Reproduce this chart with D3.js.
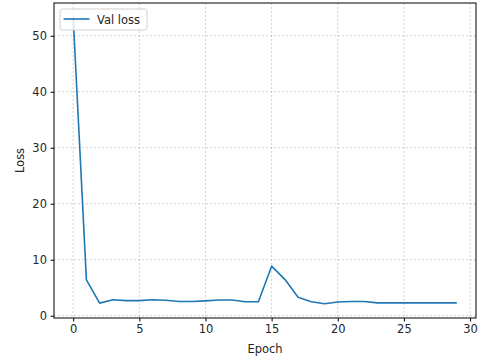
<!DOCTYPE html>
<html>
<head>
    <meta charset="utf-8">
    <title>Val loss</title>
    <script src="https://d3js.org/d3.v7.min.js"></script>
    <style>
        body { margin: 0; background: #fff; }
        text { font-family: "DejaVu Sans", sans-serif; fill: #262626; }
        .grid line { stroke: #b0b0b0; stroke-width: 0.6px; stroke-dasharray: 2, 2; }
        .axis path, .axis line { stroke: #000; stroke-width: 1px; }
        .axis text { font-size: 11.5px; fill: #262626; }
        .line { fill: none; stroke: #1f77b4; stroke-width: 1.6px; stroke-linejoin: round; }
    </style>
</head>
<body>
<svg width="489" height="360"></svg>
<script>
    // validation loss per epoch
    var epochs = d3.range(0, 30);
    var valLoss = [53.3, 6.4, 2.25, 2.85, 2.7, 2.7, 2.85, 2.75, 2.55, 2.55,
                   2.65, 2.8, 2.8, 2.5, 2.5, 8.85, 6.5, 3.3, 2.5, 2.15,
                   2.45, 2.55, 2.55, 2.3, 2.3, 2.3, 2.3, 2.3, 2.3, 2.3];
    var xTicks = [0, 5, 10, 15, 20, 25, 30];
    var yTicks = [0, 10, 20, 30, 40, 50];
    var seriesName = "Val loss";

    var svg = d3.select("svg"),
        plotL = 54, plotR = 476, plotT = 3, plotB = 318;

    // matplotlib style 5% margins
    var xMin = d3.min(epochs), xMax = d3.max(epochs), xPad = (xMax - xMin) * 0.05;
    var yMin = d3.min(valLoss), yMax = d3.max(valLoss), yPad = (yMax - yMin) * 0.05;

    var x = d3.scaleLinear().domain([xMin - xPad, xMax + xPad]).range([plotL, plotR]);
    var y = d3.scaleLinear().domain([yMin - yPad, yMax + yPad]).range([plotB, plotT]);

    // grid
    var grid = svg.append("g").attr("class", "grid");
    grid.selectAll(".gx").data(xTicks.filter(function (t) { return x(t) <= plotR; }))
        .enter().append("line")
        .attr("x1", function (d) { return x(d); }).attr("x2", function (d) { return x(d); })
        .attr("y1", plotT).attr("y2", plotB);
    grid.selectAll(".gy").data(yTicks)
        .enter().append("line")
        .attr("y1", function (d) { return y(d); }).attr("y2", function (d) { return y(d); })
        .attr("x1", plotL).attr("x2", plotR);

    // line
    var line = d3.line()
        .x(function (d, i) { return x(epochs[i]); })
        .y(function (d) { return y(d); });
    svg.append("path").datum(valLoss).attr("class", "line").attr("d", line);

    // frame
    svg.append("rect").attr("x", plotL).attr("y", plotT)
        .attr("width", plotR - plotL).attr("height", plotB - plotT)
        .attr("fill", "none").attr("stroke", "#000").attr("stroke-width", 1);

    // axes
    svg.append("g").attr("class", "axis")
        .attr("transform", "translate(0," + plotB + ")")
        .call(d3.axisBottom(x).tickValues(xTicks).tickSize(3.5).tickPadding(3.5).tickSizeOuter(0))
        .call(function (g) { g.select(".domain").remove(); });
    svg.append("g").attr("class", "axis")
        .attr("transform", "translate(" + plotL + ",0)")
        .call(d3.axisLeft(y).tickValues(yTicks).tickSize(3.5).tickPadding(3.5).tickSizeOuter(0))
        .call(function (g) { g.select(".domain").remove(); });

    // labels
    svg.append("text").attr("x", (plotL + plotR) / 2).attr("y", 353)
        .attr("text-anchor", "middle").style("font-size", "11.5px").text("Epoch");
    svg.append("text").attr("transform", "translate(24," + ((plotT + plotB) / 2) + ") rotate(-90)")
        .attr("text-anchor", "middle").style("font-size", "11.5px").text("Loss");

    // legend
    var legend = svg.append("g").attr("transform", "translate(60,9)");
    legend.append("rect").attr("width", 87).attr("height", 21).attr("rx", 2.5)
        .attr("fill", "#fff").attr("fill-opacity", 0.8)
        .attr("stroke", "#d0d0d0").attr("stroke-width", 1);
    legend.append("line").attr("x1", 3.5).attr("x2", 29.5).attr("y1", 10).attr("y2", 10)
        .attr("stroke", "#1f77b4").attr("stroke-width", 1.6);
    legend.append("text").attr("x", 37).attr("y", 14.5)
        .style("font-size", "11.5px").text(seriesName);
</script>
</body>
</html>
